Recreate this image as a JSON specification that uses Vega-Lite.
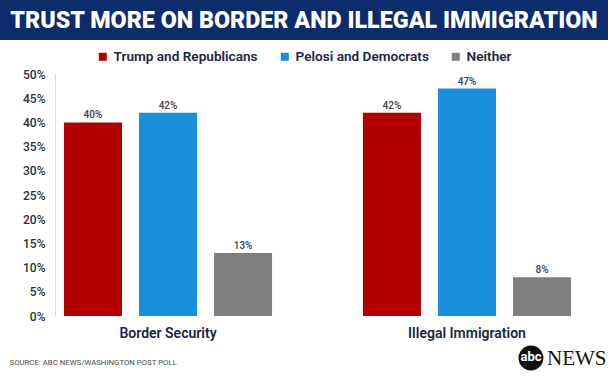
{
  "$schema": "https://vega.github.io/schema/vega-lite/v6.json",
  "padding": 0,
  "background": "white",
  "spacing": 0,
  "columns": 1,
  "resolve": {"legend": {"color": "independent"}},
  "config": {"view": {"stroke": null}, "font": "Roboto"},
  "datasets": {
    "poll": [
      {"issue": "Border Security", "party": "Trump and Republicans", "share": 0.40},
      {"issue": "Border Security", "party": "Pelosi and Democrats", "share": 0.42},
      {"issue": "Border Security", "party": "Neither", "share": 0.13},
      {"issue": "Illegal Immigration", "party": "Trump and Republicans", "share": 0.42},
      {"issue": "Illegal Immigration", "party": "Pelosi and Democrats", "share": 0.47},
      {"issue": "Illegal Immigration", "party": "Neither", "share": 0.08}
    ],
    "banner": [{"headline": "TRUST MORE ON BORDER AND ILLEGAL IMMIGRATION"}],
    "brand": [{"mark": "abc", "word": "NEWS"}]
  },
  "concat": [
    {
      "width": 608,
      "height": 40,
      "view": {"fill": "#0c2c6b", "stroke": null},
      "data": {"name": "banner"},
      "mark": {"type": "text", "font": "Roboto", "fontSize": 23.3, "fontWeight": 900, "color": "white", "baseline": "middle", "dy": 1},
      "encoding": {"text": {"field": "headline"}}
    },
    {
      "width": 580,
      "height": 242,
      "layer": [
        {
          "data": {"name": "poll"},
          "mark": {"type": "bar"},
          "encoding": {
            "x": {
              "field": "issue", "type": "nominal", "sort": null,
              "scale": {"paddingInner": 0.304, "paddingOuter": 0.122, "align": 0.877},
              "axis": {
                "title": "SOURCE: ABC NEWS/WASHINGTON POST POLL",
                "titleX": 9, "titleY": 46, "titleAlign": "left", "titleAnchor": "start",
                "titleBaseline": "middle", "titleFontSize": 7.8, "titleFontWeight": "normal", "titleColor": "#4a4a4a", "titleFont": "Roboto",
                "labelAngle": 0, "labelFontSize": 14, "labelFontWeight": 600, "labelColor": "#1c2541", "labelPadding": 10,
                "ticks": false, "domain": false
              }
            },
            "xOffset": {
              "field": "party", "type": "nominal",
              "scale": {"domain": ["Trump and Republicans", "Pelosi and Democrats", "Neither"], "paddingInner": 0.227, "paddingOuter": 0}
            },
            "y": {
              "field": "share", "type": "quantitative",
              "scale": {"domain": [0, 0.5], "nice": false},
              "axis": {
                "title": null, "format": ".0%", "tickCount": 11,
                "labelOverlap": false, "labelFlush": false, "offset": -55,
                "grid": false, "ticks": false, "domainColor": "#d8d8e0", "labelPadding": 10,
                "labelFontSize": 12, "labelFontWeight": 500, "labelColor": "#2a3042"
              }
            },
            "color": {
              "field": "party", "type": "nominal",
              "scale": {"domain": ["Trump and Republicans", "Pelosi and Democrats", "Neither"], "range": ["#b20000", "#1a8fdc", "#7f7f7f"]},
              "legend": {
                "title": null, "orient": "none", "direction": "horizontal", "legendX": 86, "legendY": -34, "padding": 10,
                "gridAlign": "none",
                "symbolType": "square", "symbolSize": 64, "symbolStrokeWidth": 0,
                "labelFontSize": 13.6, "labelFontWeight": 600, "labelColor": "#1c2541", "labelOffset": 4, "columnPadding": 20
              }
            }
          }
        },
        {
          "data": {"name": "poll"},
          "mark": {"type": "text", "baseline": "bottom", "dy": -2, "fontSize": 10, "fontWeight": 500, "color": "#3a4050"},
          "encoding": {
            "x": {"field": "issue", "type": "nominal", "sort": null},
            "xOffset": {"field": "party", "type": "nominal"},
            "y": {"field": "share", "type": "quantitative"},
            "text": {"field": "share", "type": "quantitative", "format": ".0%"}
          }
        },
        {
          "data": {"name": "brand"},
          "mark": {"type": "point", "shape": "circle", "filled": true, "color": "#111111", "size": 620, "opacity": 1},
          "encoding": {
            "x": {"datum": "Illegal Immigration", "type": "nominal"},
            "y": {"datum": 0, "type": "quantitative"},
            "xOffset": {"value": 168},
            "yOffset": {"value": 42}
          }
        },
        {
          "data": {"name": "brand"},
          "mark": {"type": "text", "color": "white", "fontSize": 13, "fontWeight": 700, "dx": 64, "dy": 41, "baseline": "middle"},
          "encoding": {
            "x": {"datum": "Illegal Immigration", "type": "nominal"},
            "y": {"datum": 0, "type": "quantitative"},
            "text": {"field": "mark"}
          }
        },
        {
          "data": {"name": "brand"},
          "mark": {"type": "text", "color": "#111111", "font": "Liberation Serif", "fontSize": 21, "align": "left", "dx": 80, "dy": 43, "baseline": "middle"},
          "encoding": {
            "x": {"datum": "Illegal Immigration", "type": "nominal"},
            "y": {"datum": 0, "type": "quantitative"},
            "text": {"field": "word"}
          }
        }
      ]
    }
  ]
}
